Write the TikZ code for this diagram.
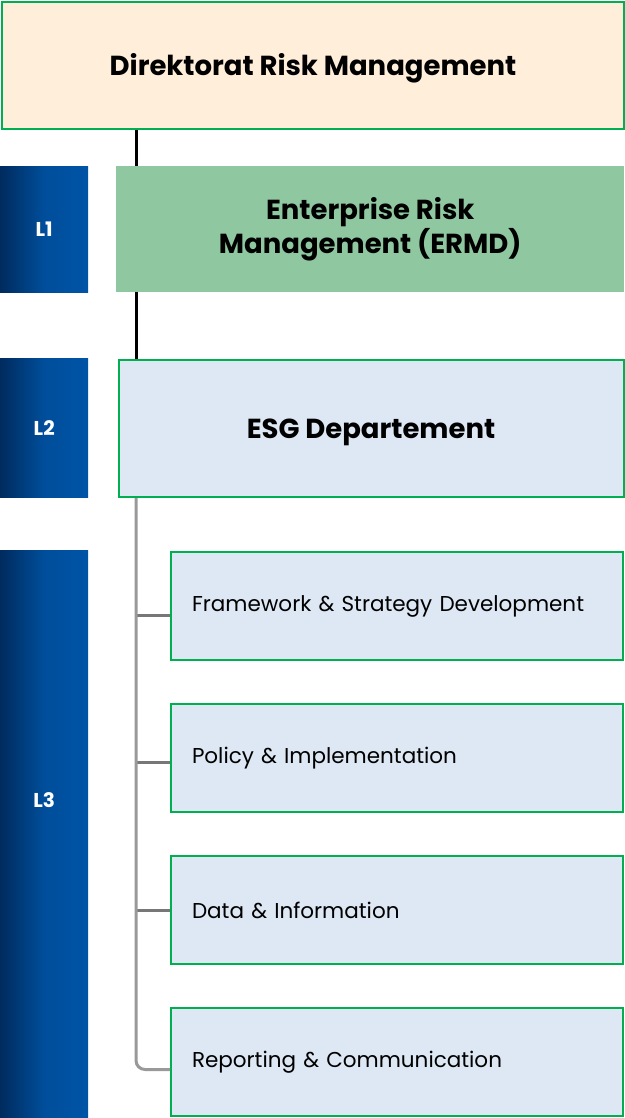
\documentclass[tikz,border=0pt]{standalone}
\usepackage{fontspec}
\setmainfont{Poppins}
\definecolor{boxgreen}{HTML}{00B050}
\definecolor{peach}{HTML}{FFEED9}
\definecolor{mint}{HTML}{8FC8A0}
\definecolor{paleblue}{HTML}{DDE8F4}
\definecolor{navy}{HTML}{002B5E}
\definecolor{royal}{HTML}{0054A6}
\definecolor{trunkgrey}{HTML}{999999}
\definecolor{branchgrey}{HTML}{777777}
\begin{document}
\begin{tikzpicture}[x=1pt,y=-1pt]
\tikzstyle{topbox} = [rectangle, anchor=north west, inner sep=0pt, draw=boxgreen, line width=2pt, fill=peach, minimum width=622pt, minimum height=127pt, text height=28pt, font=\bfseries\fontsize{27.5}{34}\selectfont]
\tikzstyle{levelbar} = [rectangle, anchor=north west, inner sep=0pt, left color=navy, right color=royal, middle color=royal!85!navy, minimum width=88pt, text=white, font=\bfseries\fontsize{20}{24}\selectfont]
\tikzstyle{unitbox} = [rectangle, anchor=north west, inner sep=0pt, align=center, font=\bfseries\fontsize{27.5}{34}\selectfont]
\tikzstyle{subbox} = [rectangle, anchor=north west, inner xsep=21pt, inner ysep=0pt, draw=boxgreen, line width=2pt, fill=paleblue, text width=410pt, minimum height=108pt, align=left, font=\fontsize{21.5}{26}\selectfont]
\tikzstyle{trunk} = [trunkgrey, line width=3pt]
\tikzstyle{branch} = [branchgrey, line width=3pt]
\useasboundingbox (0,0) rectangle (624,1118);
% boxes
\node (top) [topbox] at (1,1) {Direktorat Risk Management};
\node (l1) [levelbar, minimum height=126pt] at (0,166) {L1};
\node (ermd) [unitbox, fill=mint, minimum width=508pt, minimum height=126pt] at (116,166) {Enterprise Risk\\Management (ERMD)};
\node (l2) [levelbar, minimum height=139pt] at (0,358) {L2};
\node (esg) [unitbox, draw=boxgreen, line width=2pt, fill=paleblue, minimum width=505pt, minimum height=137pt, text height=28pt] at (117.5,359) {ESG Departement};
\node (l3) [levelbar, minimum height=568pt, text depth=68pt] at (0,550) {L3};
\node (fsd) [subbox] at (170,551) {Framework \& Strategy Development};
\node (pim) [subbox] at (170,703) {Policy \& Implementation};
\node (dat) [subbox] at (170,855) {Data \& Information};
\node (rep) [subbox] at (170,1007) {Reporting \& Communication};
% connectors
\coordinate (spine) at (136,0);
\draw [line width=3pt] (spine |- top.south) -- (spine |- ermd.north);
\draw [line width=3pt] (spine |- ermd.south) -- (spine |- esg.north);
\draw [branch] (spine |- fsd.west) ++(0,9) -- ([yshift=-9pt]fsd.west);
\draw [branch] (spine |- pim.west) ++(0,4.5) -- ([yshift=-4.5pt]pim.west);
\draw [branch] (spine |- dat.west) ++(0,0.5) -- ([yshift=-0.5pt]dat.west);
\draw [trunk, rounded corners=9pt] (spine |- esg.south) -- ([yshift=-7.5pt]spine |- rep.west) -- ([yshift=-7.5pt]rep.west);
\end{tikzpicture}
\end{document}
